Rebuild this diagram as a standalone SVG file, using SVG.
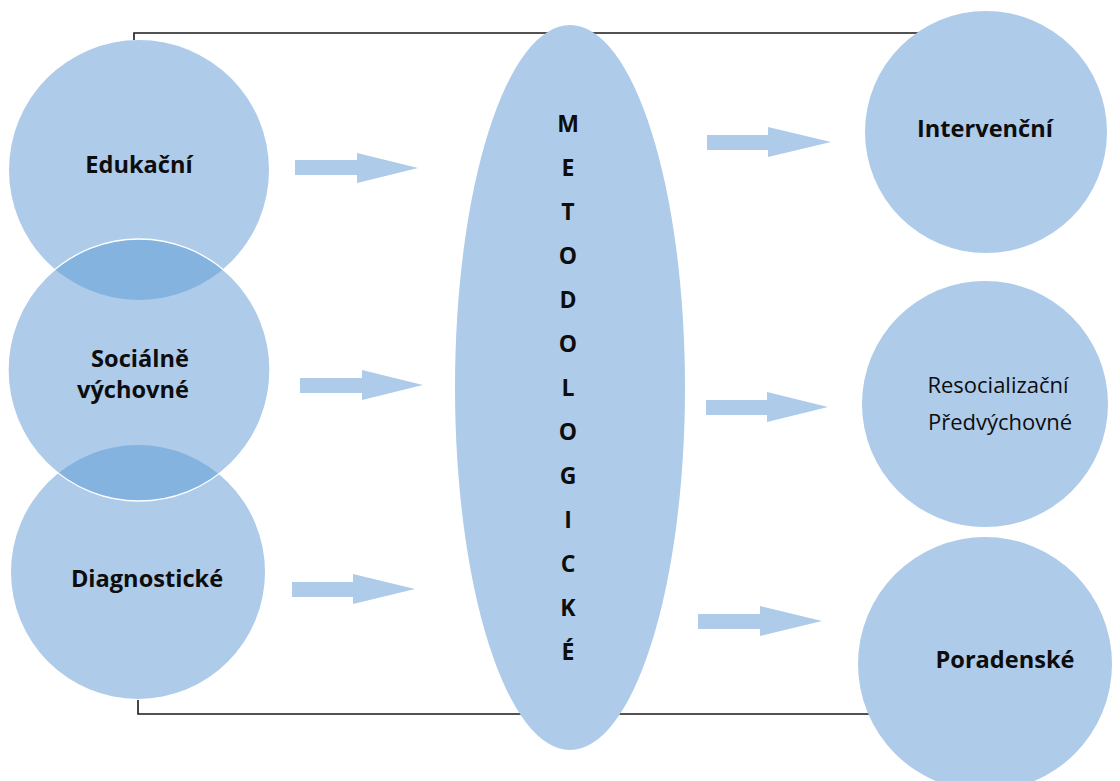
<svg xmlns="http://www.w3.org/2000/svg" width="1120" height="781" viewBox="0 0 1120 781">
  <style>
    .shape { fill: #AECBEA; }
    .lens { fill: #84B3DF; }
    .frame { fill: none; stroke: #1a1a1a; stroke-width: 1.6; }
    .arrow { fill: #AECBEA; }
    .lbl { font-family: "Open Sans", "Noto Sans", "Liberation Sans", sans-serif; font-weight: bold; font-size: 23.6px; fill: #0d0d0d; text-anchor: middle; }
    .lbl-r { font-family: "Open Sans", "Noto Sans", "Liberation Sans", sans-serif; font-weight: 500; font-size: 22px; fill: #0d0d0d; text-anchor: middle; }
    .vert { font-family: "Open Sans", "Noto Sans", "Liberation Sans", sans-serif; font-weight: bold; font-size: 23px; fill: #0d0d0d; text-anchor: middle; }
  </style>
  <defs>
    <clipPath id="clipEdu"><circle cx="139" cy="170" r="130"/></clipPath>
    <clipPath id="clipDiag"><circle cx="138" cy="572" r="127"/></clipPath>
  </defs>
  <rect width="1120" height="781" fill="#ffffff"/>
  <g id="connectors">
    <polyline class="frame" points="134,40 134,33 918,33"/>
    <polyline class="frame" points="138,700 138,714 872,714"/>
    <polygon class="arrow" points="295,160 357,160 357,153 418,168 357,183 357,175 295,175"/>
    <polygon class="arrow" points="300,378 362,378 362,370 423,385 362,400 362,393 300,393"/>
    <polygon class="arrow" points="292,582 353,582 353,574 415,589 353,604 353,597 292,597"/>
    <polygon class="arrow" points="707,135 768,135 768,127 831,142 768,157 768,150 707,150"/>
    <polygon class="arrow" points="706,400 767,400 767,392 828,407 767,422 767,415 706,415"/>
    <polygon class="arrow" points="698,614 760,614 760,606 822,621 760,636 760,629 698,629"/>
  </g>
  <g id="node-edukacni">
    <circle class="shape" cx="139" cy="170" r="130"/>
    <text class="lbl" x="139" y="173">Edukační</text>
  </g>
  <g id="node-diagnosticke">
    <circle class="shape" cx="138" cy="572" r="127"/>
    <text class="lbl" x="147" y="587">Diagnostické</text>
  </g>
  <g id="node-socialne">
    <circle class="shape" cx="139" cy="370" r="131"/>
    <circle class="lens" cx="139" cy="370" r="131" clip-path="url(#clipEdu)"/>
    <circle class="lens" cx="139" cy="370" r="131" clip-path="url(#clipDiag)"/>
    <circle cx="139" cy="370" r="131" fill="none" stroke="#ffffff" stroke-width="1.3"/>
    <text class="lbl" x="140" y="367">Sociálně</text>
    <text class="lbl" x="133" y="398">výchovné</text>
  </g>
  <g id="node-metodologicke">
    <ellipse class="shape" cx="570" cy="387.5" rx="115" ry="362.5"/>
    <text class="vert" x="568" y="132">M</text>
    <text class="vert" x="568" y="176">E</text>
    <text class="vert" x="568" y="220">T</text>
    <text class="vert" x="568" y="264">O</text>
    <text class="vert" x="568" y="308">D</text>
    <text class="vert" x="568" y="352">O</text>
    <text class="vert" x="568" y="396">L</text>
    <text class="vert" x="568" y="440">O</text>
    <text class="vert" x="568" y="484">G</text>
    <text class="vert" x="568" y="528">I</text>
    <text class="vert" x="568" y="572">C</text>
    <text class="vert" x="568" y="616">K</text>
    <text class="vert" x="568" y="660">É</text>
  </g>
  <g id="node-intervencni">
    <circle class="shape" cx="986" cy="132" r="121"/>
    <text class="lbl" x="985" y="137">Intervenční</text>
  </g>
  <g id="node-resocializacni">
    <circle class="shape" cx="985" cy="404" r="123"/>
    <text class="lbl-r" x="998" y="393">Resocializační</text>
    <text class="lbl-r" x="1000" y="430">Předvýchovné</text>
  </g>
  <g id="node-poradenske">
    <circle class="shape" cx="985" cy="664" r="127"/>
    <text class="lbl" x="1005" y="668">Poradenské</text>
  </g>
</svg>
